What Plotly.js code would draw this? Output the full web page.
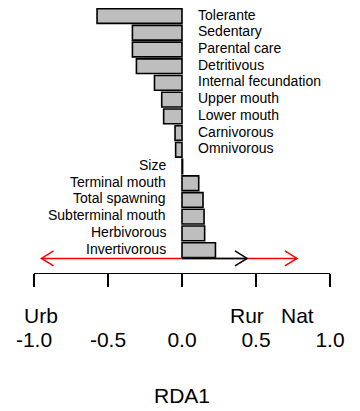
<!DOCTYPE html>
<html>
<head>
<meta charset="utf-8">
<script src="https://cdn.plot.ly/plotly-3.0.1.min.js"></script>
<style>
  html, body { margin: 0; padding: 0; background: #fff; }
  #chart { width: 360px; height: 411px; }
</style>
</head>
<body>
<div id="chart"></div>
<script>
// Trait scores on RDA1 (top to bottom)
const traits = ['Tolerante', 'Sedentary', 'Parental care', 'Detritivous', 'Internal fecundation',
  'Upper mouth', 'Lower mouth', 'Carnivorous', 'Omnivorous', 'Size', 'Terminal mouth',
  'Total spawning', 'Subterminal mouth', 'Herbivorous', 'Invertivorous'];
const traitScores = [-0.574, -0.335, -0.335, -0.308, -0.186, -0.137, -0.124, -0.047, -0.043,
  0.004, 0.113, 0.142, 0.149, 0.153, 0.226];

// Land-use arrows on RDA1
const sites = ['Urb', 'Rur', 'Nat'];
const siteScores = [-0.95, 0.44, 0.777];

// Axis ticks
const tickValues = [-1, -0.5, 0, 0.5, 1];
const tickLabels = ['-1.0', '-0.5', '0.0', '0.5', '1.0'];

const FONT = 'Liberation Sans, Arial, Helvetica, sans-serif';
const n = traits.length;
const yPos = traits.map((t, i) => n - i);
const arrowY = 0.5;
const headDx = 0.082, headDy = 0.45;
const siteColors = ['#ff0000', '#000000', '#ff0000'];

const traces = [{
  type: 'bar',
  orientation: 'h',
  x: traitScores,
  y: yPos,
  width: 0.88,
  marker: { color: '#bebebe', line: { color: '#000', width: 1.6 } },
  hoverinfo: 'skip',
  showlegend: false
}];

// draw red first, black on top
const order = [0, 2, 1];
order.forEach(k => {
  const tip = siteScores[k];
  const s = Math.sign(tip);
  traces.push({
    type: 'scatter', mode: 'lines',
    x: [0, tip], y: [arrowY, arrowY],
    line: { color: siteColors[k], width: 1.5 },
    hoverinfo: 'skip', showlegend: false
  });
  traces.push({
    type: 'scatter', mode: 'lines',
    x: [tip - s * headDx, tip, tip - s * headDx],
    y: [arrowY + headDy, arrowY, arrowY - headDy],
    line: { color: siteColors[k], width: 1.5 },
    hoverinfo: 'skip', showlegend: false
  });
});

const annotations = traits.map((t, i) => {
  const pos = traitScores[i] > 0;
  return {
    x: 0, y: yPos[i], xref: 'x', yref: 'y',
    text: t, showarrow: false,
    xanchor: pos ? 'right' : 'left',
    xshift: pos ? -14 : 14,
    yshift: 1.5,
    font: { family: FONT, size: 14, color: '#000' }
  };
});
sites.forEach((s, k) => {
  annotations.push({
    x: siteScores[k], y: 0, xref: 'x', yref: 'paper',
    text: s, showarrow: false,
    xanchor: 'center', yanchor: 'middle', yshift: -42,
    font: { family: FONT, size: 21, color: '#000' }
  });
});

const layout = {
  width: 360, height: 411,
  margin: { l: 34, r: 30, t: 6, b: 138 },
  paper_bgcolor: '#fff', plot_bgcolor: '#fff',
  font: { family: FONT, color: '#000' },
  showlegend: false,
  xaxis: {
    range: [-1, 1],
    showline: true, linecolor: '#000', linewidth: 1.3,
    ticks: 'outside', ticklen: 13, tickwidth: 1.3, tickcolor: '#000',
    tickvals: tickValues, ticktext: tickLabels,
    tickfont: { family: FONT, size: 21, color: '#000' },
    ticklabelstandoff: 34,
    showgrid: false, zeroline: false,
    title: { text: 'RDA1', font: { family: FONT, size: 21, color: '#000' }, standoff: 38 }
  },
  yaxis: {
    range: [-0.37, 15.6],
    visible: false, showgrid: false, zeroline: false
  },
  annotations: annotations
};

Plotly.newPlot('chart', traces, layout, { staticPlot: true, displayModeBar: false });
</script>
</body>
</html>
